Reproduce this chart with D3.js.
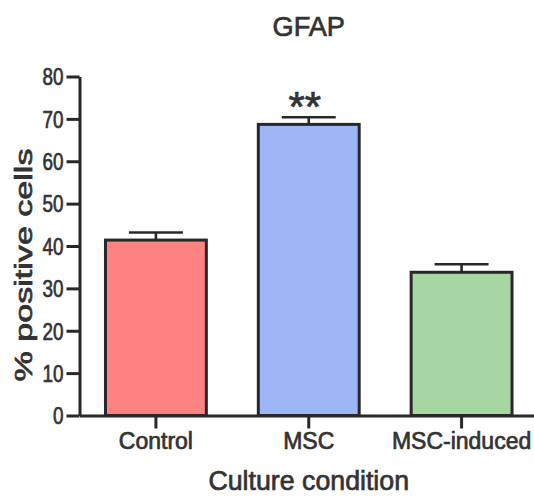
<!DOCTYPE html>
<html>
<head>
<meta charset="utf-8">
<script src="https://cdn.jsdelivr.net/npm/d3@7"></script>
<style>
  html, body { margin: 0; padding: 0; background: #ffffff; }
  svg { display: block; }
  text {
    font-family: "Liberation Sans", Arial, Helvetica, sans-serif;
    font-weight: normal;
    fill: #333333;
    stroke: #333333;
    stroke-width: 0.7px;
  }
</style>
</head>
<body>
<svg id="chart" width="534" height="497"></svg>
<script>
// GFAP-positive cells per culture condition (mean ± SEM)
const conditions = ["Control", "MSC", "MSC-induced"];
const meanValues = [41.4, 68.7, 33.8];
const semValues = [1.8, 1.7, 1.9];
const significance = ["", "**", ""];
const fillColors = ["#ff8282", "#9fb6f6", "#a6d7a3"];
const yTicks = [0, 10, 20, 30, 40, 50, 60, 70, 80];

const svg = d3.select("#chart");
const ink = "#282828";

const plot = { left: 79.5, right: 538, top: 76.5, bottom: 415.5 };

const x = d3.scaleBand()
  .domain(conditions)
  .range([plot.left, plot.right])
  .paddingInner(0.34)
  .paddingOuter(0.17);

const y = d3.scaleLinear()
  .domain([0, 80])
  .range([plot.bottom, plot.top]);

// squeeze or stretch a text run to a fraction of its natural length
function fit(sel, factor) {
  sel.each(function () {
    const w = this.getComputedTextLength();
    d3.select(this).attr("textLength", w * factor).attr("lengthAdjust", "spacingAndGlyphs");
  });
}

// bars
svg.append("g").selectAll("rect")
  .data(conditions)
  .join("rect")
  .attr("x", d => x(d))
  .attr("width", x.bandwidth())
  .attr("y", (d, i) => y(meanValues[i]))
  .attr("height", (d, i) => y(0) - y(meanValues[i]))
  .attr("fill", (d, i) => fillColors[i])
  .attr("stroke", ink)
  .attr("stroke-width", 3);

// upper error bars
const capHalf = 27;
const err = svg.append("g").attr("stroke", ink).attr("stroke-width", 2.6);
conditions.forEach((c, i) => {
  const cx = x(c) + x.bandwidth() / 2;
  err.append("line")
    .attr("x1", cx).attr("x2", cx)
    .attr("y1", y(meanValues[i])).attr("y2", y(meanValues[i] + semValues[i]));
  err.append("line")
    .attr("x1", cx - capHalf).attr("x2", cx + capHalf)
    .attr("y1", y(meanValues[i] + semValues[i])).attr("y2", y(meanValues[i] + semValues[i]));
});

// significance marks
svg.append("g").selectAll("text")
  .data(conditions)
  .join("text")
  .attr("x", d => x(d) + x.bandwidth() / 2 - 4)
  .attr("y", (d, i) => y(meanValues[i] + semValues[i]) + 4)
  .attr("text-anchor", "middle")
  .style("font-size", "42px")
  .text((d, i) => significance[i]);

// y axis
const yAxis = svg.append("g")
  .attr("transform", `translate(${plot.left},0)`)
  .call(d3.axisLeft(y).tickValues(yTicks).tickSize(13).tickPadding(3).tickSizeOuter(0));
yAxis.attr("font-family", null).attr("font-size", null);
yAxis.select(".domain").attr("stroke", ink).attr("stroke-width", 3);
yAxis.selectAll(".tick line").attr("stroke", ink).attr("stroke-width", 3);
yAxis.selectAll(".tick text")
  .attr("dy", "0.36em")
  .style("font-size", "23px")
  .attr("fill", "#333333")
  .call(fit, 0.82);

// x axis
const xAxis = svg.append("g")
  .attr("transform", `translate(0,${plot.bottom})`)
  .call(d3.axisBottom(x).tickSize(13).tickPadding(4).tickSizeOuter(0));
xAxis.attr("font-family", null).attr("font-size", null);
xAxis.select(".domain").attr("stroke", ink).attr("stroke-width", 3);
xAxis.selectAll(".tick line").attr("stroke", ink).attr("stroke-width", 3);
xAxis.selectAll(".tick text")
  .attr("dy", "0.71em")
  .style("font-size", "23px")
  .attr("fill", "#333333");

// title
const midX = (plot.left + plot.right) / 2;
svg.append("text")
  .attr("x", midX).attr("y", 35.5)
  .attr("text-anchor", "middle")
  .style("font-size", "28px")
  .text("GFAP")
  .call(fit, 0.97);

// axis titles
svg.append("text")
  .attr("x", midX).attr("y", 490)
  .attr("text-anchor", "middle")
  .style("font-size", "27px")
  .text("Culture condition")
  .call(fit, 0.99);

svg.append("text")
  .attr("transform", `translate(32,${(y(0) + y(80)) / 2 + 19}) rotate(-90)`)
  .attr("text-anchor", "middle")
  .style("font-size", "23px")
  .text("% positive cells")
  .attr("textLength", 233)
  .attr("lengthAdjust", "spacingAndGlyphs");
</script>
</body>
</html>
